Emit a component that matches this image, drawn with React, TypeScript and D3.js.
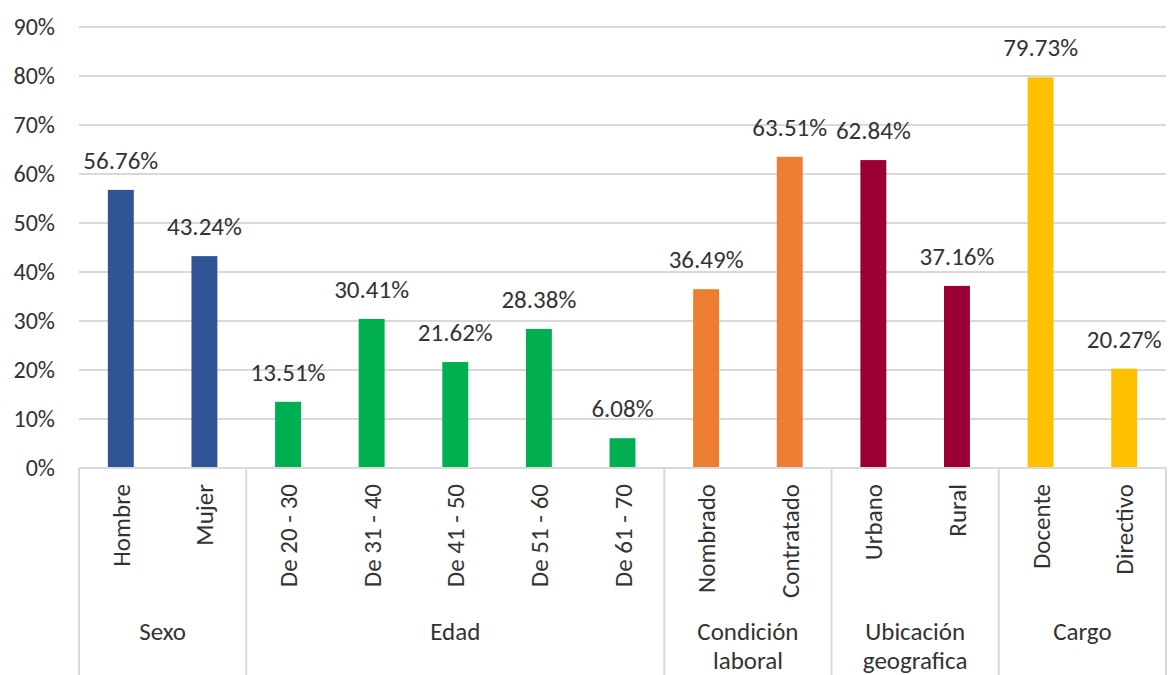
import React from "react";
import * as d3 from "d3";

const categories = ["Hombre","Mujer","De 20 - 30","De 31 - 40","De 41 - 50","De 51 - 60","De 61 - 70","Nombrado","Contratado","Urbano","Rural","Docente","Directivo"];
const values = [56.76,43.24,13.51,30.41,21.62,28.38,6.08,36.49,63.51,62.84,37.16,79.73,20.27];
const groupNames = [["Sexo"],["Edad"],["Condición","laboral"],["Ubicación","geografica"],["Cargo"]];
const groupSizes = [2,5,2,2,2];
const groupColors = ["#2F5597","#00B050","#ED7D31","#9A0036","#FFC000"];
const yTicks = [0,10,20,30,40,50,60,70,80,90];

const W = 1170, H = 675;
const left = 79, right = 1166, top = 27, bottom = 468;
const font = "Carlito, Calibri, 'Open Sans', sans-serif";
const txt = "#333333";

export default function App() {
  const x = d3.scaleBand<string>().domain(categories).range([left, right]).paddingInner(0.69).paddingOuter(0.345);
  const y = d3.scaleLinear().domain([0, 90]).range([bottom, top]);
  const colorOf: string[] = [];
  groupSizes.forEach((n, g) => { for (let i = 0; i < n; i++) colorOf.push(groupColors[g]); });
  let acc = 0;
  const groups = groupSizes.map((n, g) => { const s = acc; acc += n; return { s, n, g }; });
  const gx = (i: number) => left + i * (right - left) / categories.length;
  return (
    <svg width={W} height={H} style={{ position: "absolute", left: 0, top: 0, background: "#fff" }} fontFamily={font}>
      {yTicks.map(t => (
        <g key={t}>
          <line x1={left} x2={right} y1={y(t)} y2={y(t)} stroke="#D9D9D9" strokeWidth={2} />
          <text x={55} y={y(t)} dy="0.33em" textAnchor="end" fontSize={24} fill={txt}>{t}%</text>
        </g>
      ))}
      {categories.map((c, i) => (
        <g key={c}>
          <rect x={x(c)} y={y(values[i])} width={x.bandwidth()} height={y(0) - y(values[i])} fill={colorOf[i]} />
          <text x={x(c)! + x.bandwidth() / 2} y={y(values[i]) - 21} textAnchor="middle" fontSize={25} fill={txt}>{values[i].toFixed(2)}%</text>
          <text transform={`translate(${x(c)! + x.bandwidth() / 2 + 9},${bottom + 16}) rotate(-90)`} textAnchor="end" fontSize={25} fill={txt}>{c}</text>
        </g>
      ))}
      {groups.map(({ s, n, g }) => (
        <g key={g}>
          <line x1={gx(s)} x2={gx(s)} y1={bottom} y2={H} stroke="#D9D9D9" strokeWidth={2} />
          {groupNames[g].map((ln, k) => (
            <text key={k} x={(gx(s) + gx(s + n)) / 2} y={640 + k * 29} textAnchor="middle" fontSize={25} fill={txt}>{ln}</text>
          ))}
        </g>
      ))}
      <line x1={right} x2={right} y1={bottom} y2={H} stroke="#D9D9D9" strokeWidth={2} />
      <line x1={left} x2={right} y1={bottom} y2={bottom} stroke="#D9D9D9" strokeWidth={2} />
    </svg>
  );
}
